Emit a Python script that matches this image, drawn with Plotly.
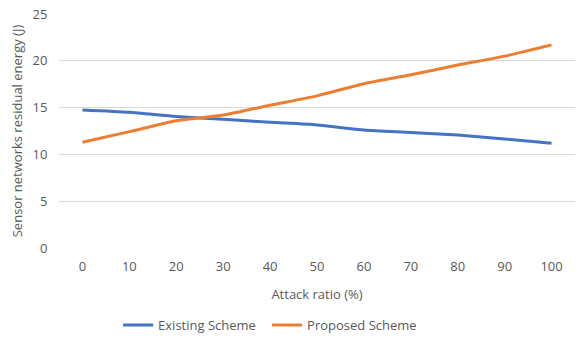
import plotly.graph_objects as go

attack_ratio = ["0", "10", "20", "30", "40", "50", "60", "70", "80", "90", "100"]
existing = [14.75, 14.5, 14.05, 13.75, 13.43, 13.15, 12.6, 12.35, 12.07, 11.65, 11.2]
proposed = [11.3, 12.43, 13.6, 14.2, 15.25, 16.25, 17.55, 18.5, 19.55, 20.5, 21.7]

fig = go.Figure()
fig.add_trace(go.Scatter(x=attack_ratio, y=existing, mode="lines", name="Existing Scheme",
                         line=dict(color="#4472C4", width=3, shape="spline", smoothing=0.6)))
fig.add_trace(go.Scatter(x=attack_ratio, y=proposed, mode="lines", name="Proposed Scheme",
                         line=dict(color="#ED7D31", width=3, shape="spline", smoothing=0.6)))

font_family = "Open Sans, Liberation Sans, sans-serif"
fig.update_layout(
    width=576, height=347,
    margin=dict(l=59, r=1, t=14, b=99),
    paper_bgcolor="white", plot_bgcolor="white",
    font=dict(family=font_family, size=13, color="#595959"),
    showlegend=True,
    legend=dict(orientation="h", xref="container", yref="container",
                x=0.205, xanchor="left", y=0.02, yanchor="bottom",
                font=dict(size=13, color="#595959"), itemwidth=30,
                entrywidth=104, entrywidthmode="pixels"),
    xaxis=dict(type="category", range=[-0.5, 10.5], showgrid=False, zeroline=False,
               showline=False, ticks="outside", ticklen=6, tickcolor="rgba(0,0,0,0)",
               tickfont=dict(size=13),
               title=dict(text="Attack ratio (%)", standoff=16, font=dict(size=13, color="#595959"))),
    yaxis=dict(range=[0, 25], dtick=5, showgrid=True, gridcolor="#d9d9d9", gridwidth=1,
               zeroline=False, showline=False, ticks="outside", ticklen=8, tickcolor="rgba(0,0,0,0)",
               tickfont=dict(size=13),
               title=dict(text="Sensor networks residual energy (J)", standoff=6,
                          font=dict(size=13, color="#595959"))),
)
fig.write_html("out.html")
